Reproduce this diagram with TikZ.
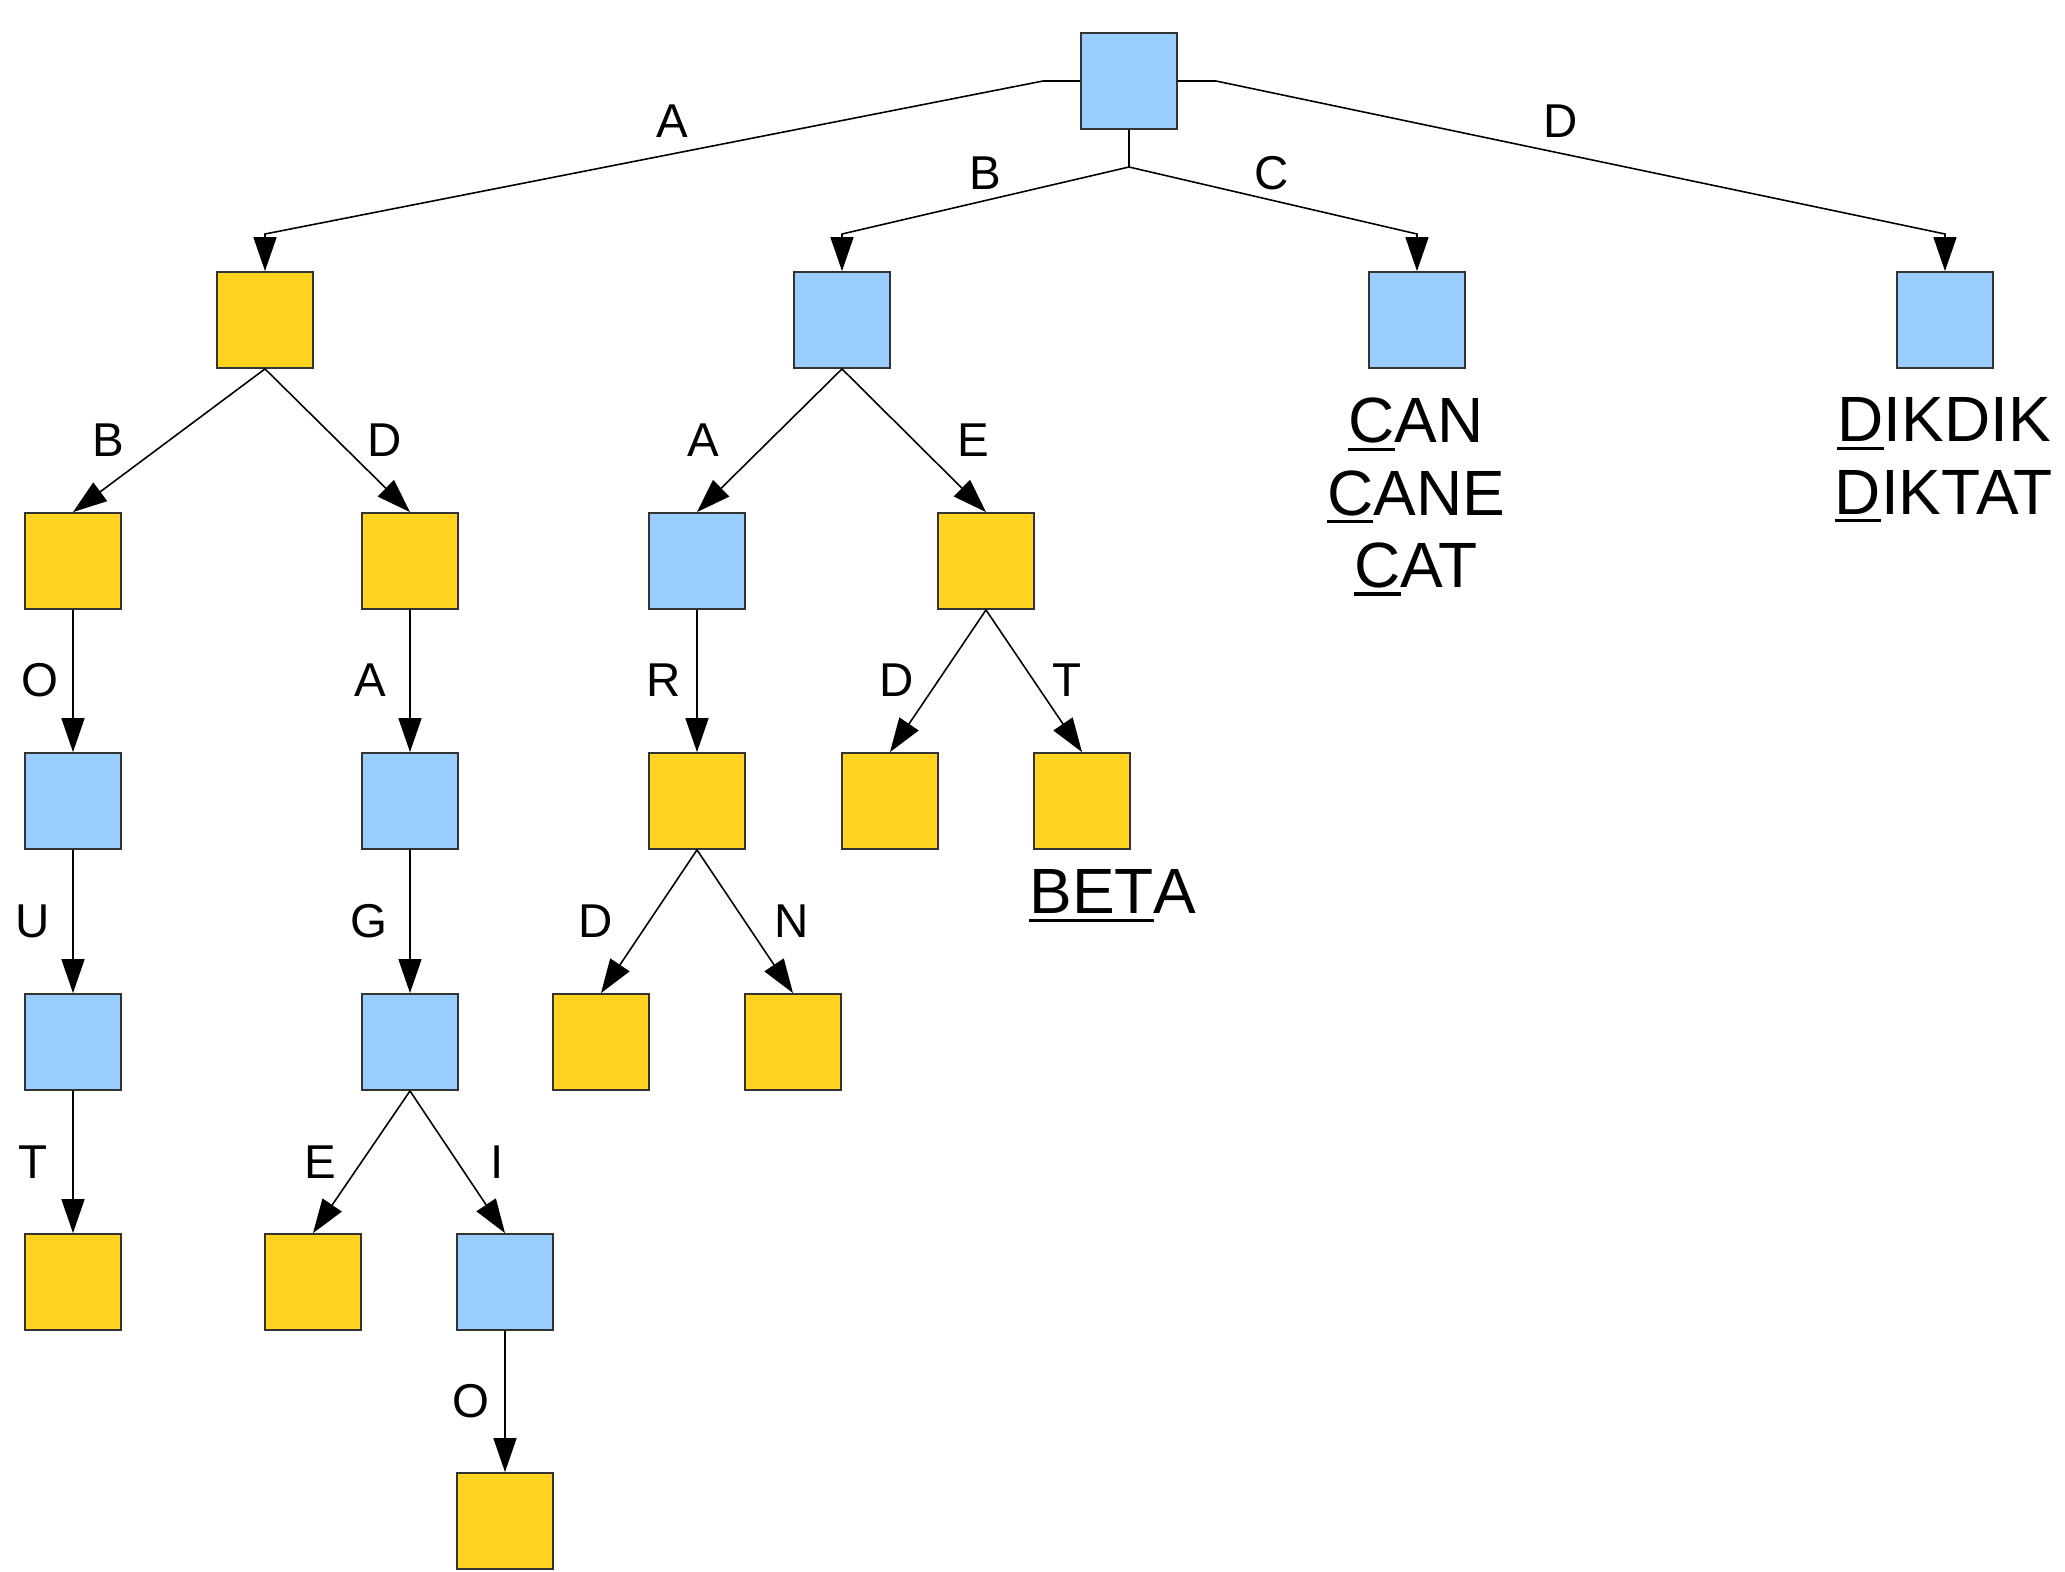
\documentclass[tikz,border=0pt]{standalone}
\usepackage{fontspec}
\setmainfont{Liberation Sans}
\usetikzlibrary{arrows.meta}
\definecolor{trieblue}{HTML}{99CCFF}
\definecolor{triegold}{HTML}{FFD320}
% underline a prefix with a heavier rule
\newsavebox\ulbox
\newcommand\ulpart[1]{\sbox\ulbox{#1}\rlap{\rule[-2.3pt]{\wd\ulbox}{0.95pt}}\usebox\ulbox}
\tikzset{
  cell/.style={draw=black!80,line width=0.5pt,minimum size=0.96cm,inner sep=0pt},
  bluebox/.style={cell,fill=trieblue},
  goldbox/.style={cell,fill=triegold},
  link/.style={line width=0.45pt,-{Triangle[length=3.4mm,width=2.3mm]}},
  letter/.style={font=\fontsize{13.5}{16}\selectfont},
  words/.style={font=\fontsize{18.2}{20.6}\selectfont,align=center}
}

\begin{document}
\begin{tikzpicture}[x=0.01cm,y=-0.01cm]
  \useasboundingbox (0,0) rectangle (2065,1572);
  % level 0 and 1
  \node[bluebox] (root) at (1129,81) {};
  \node[goldbox] (a) at (265,320) {};
  \node[bluebox] (b) at (842,320) {};
  \node[bluebox] (c) at (1417,320) {};
  \node[bluebox] (d) at (1945,320) {};
  % level 2
  \node[goldbox] (ab) at (73,561) {};
  \node[goldbox] (ad) at (410,561) {};
  \node[bluebox] (ba) at (697,561) {};
  \node[goldbox] (be) at (986,561) {};
  % level 3
  \node[bluebox] (abo) at (73,801) {};
  \node[bluebox] (ada) at (410,801) {};
  \node[goldbox] (bar) at (697,801) {};
  \node[goldbox] (bed) at (890,801) {};
  \node[goldbox] (bet) at (1082,801) {};
  % level 4
  \node[bluebox] (abou) at (73,1042) {};
  \node[bluebox] (adag) at (410,1042) {};
  \node[goldbox] (bard) at (601,1042) {};
  \node[goldbox] (barn) at (793,1042) {};
  % level 5 and 6
  \node[goldbox] (about) at (73,1282) {};
  \node[goldbox] (adage) at (313,1282) {};
  \node[bluebox] (adagi) at (505,1282) {};
  \node[goldbox] (adagio) at (505,1521) {};

  % bent connectors out of the root
  \coordinate (rl) at (1043,81);
  \coordinate (rr) at (1216,81);
  \coordinate (rb) at (1129,167);
  \coordinate (ka) at (265,234);
  \coordinate (kb) at (842,234);
  \coordinate (kc) at (1417,234);
  \coordinate (kd) at (1945,234);
  \draw[link] (root.west) -- (rl) -- (ka) -- (a.north);
  \draw[link] (root.south) -- (rb) -- (kb) -- (b.north);
  \draw[link] (rb) -- (kc) -- (c.north);
  \draw[link] (root.east) -- (rr) -- (kd) -- (d.north);

  % straight connectors
  \foreach \p/\q in {a/ab,a/ad,b/ba,b/be,ab/abo,ad/ada,ba/bar,be/bed,be/bet,
                     abo/abou,ada/adag,bar/bard,bar/barn,abou/about,adag/adage,
                     adag/adagi,adagi/adagio}
    \draw[link] (\p.south) -- (\q.north);

  % letters on the connectors
  \node[letter] (la) at (672,121) {A};
  \node[letter] (lb) at (985,173) {B};
  \node[letter] (lc) at (1272,173) {C};
  \node[letter] (ld) at (1561,121) {D};
  \node[letter] (lab) at (108,440) {B};
  \node[letter] (lad) at (385,440) {D};
  \node[letter] (lba) at (703,440) {A};
  \node[letter] (lbe) at (973,440) {E};
  \node[letter] (labo) at (40,680) {O};
  \node[letter] (lada) at (370,680) {A};
  \node[letter] (lbar) at (664,680) {R};
  \node[letter] (lbed) at (897,680) {D};
  \node[letter] (lbet) at (1067,680) {T};
  \node[letter] (labou) at (33,921) {U};
  \node[letter] (ladag) at (369,921) {G};
  \node[letter] (lbard) at (596,921) {D};
  \node[letter] (lbarn) at (792,921) {N};
  \node[letter] (labout) at (33,1162) {T};
  \node[letter] (ladage) at (320,1162) {E};
  \node[letter] (ladagi) at (497,1162) {I};
  \node[letter] (ladagio) at (471,1401) {O};

  % stored words
  \node[words] (wbet) at (1113,896) {\ulpart{BET}A};
  \node[words] (wc) at (1416,497) {\ulpart{C}AN\\\ulpart{C}ANE\\\ulpart{C}AT};
  \node[words] (wd) at (1944,460) {\ulpart{D}IKDIK\\\ulpart{D}IKTAT};
\end{tikzpicture}
\end{document}
